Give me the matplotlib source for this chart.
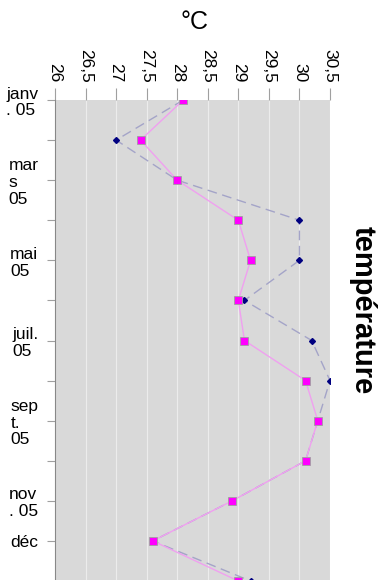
import matplotlib.pyplot as plt

plt.rcParams['font.family'] = ['Liberation Sans', 'DejaVu Sans']

months = ['janv\n. 05', '', 'mar\ns\n05', '', 'mai\n05', '', 'juil.\n05', '',
          'sep\nt.\n05', '', 'nov\n. 05', 'déc']
temp_a = [28.1, 27.4, 28.0, 29.0, 29.2, 29.0, 29.1, 30.1, 30.3, 30.1, 28.9, 27.6, 29.0]
temp_b = [28.1, 27.0, 28.0, 30.0, 30.0, 29.1, 30.2, 30.5, 30.3, 30.1, 28.9, 27.6, 29.2]
x_ticks = [26, 26.5, 27, 27.5, 28, 28.5, 29, 29.5, 30, 30.5]
x_labels = ['26', '26,5', '27', '27,5', '28', '28,5', '29', '29,5', '30', '30,5']

W, H = 385, 580
fig = plt.figure(figsize=(W / 100, H / 100), dpi=100)
ax = fig.add_axes([55 / W, 0, 275 / W, 480 / H])
ax.set_facecolor('#d9d9d9')

idx = list(range(len(temp_a)))
ax.plot(temp_b, idx, color='#a4a4c8', lw=1, ls=(0, (7, 4)), marker='D',
        ms=3, mfc='#000080', mec='#000080', zorder=3)
ax.plot(temp_a, idx, color='#f0a0f0', lw=1, marker='s', ms=6,
        mfc='#ff00ff', mec='#a0a0a0', mew=0.6, zorder=4)

ax.set_xlim(26, 30.5)
ax.set_ylim(12 - 1 / 40, 0)
ax.xaxis.tick_top()
ax.set_xticks(x_ticks)
ax.set_xticklabels(x_labels, rotation=-90, fontsize=12.5)
ax.set_yticks(range(len(months)))
ax.set_yticklabels(months, fontsize=12.5, multialignment='left', linespacing=1.15)
ax.tick_params(axis='x', length=9, color='#a0a0a0', pad=3.5)
ax.tick_params(axis='y', length=6, color='#a0a0a0', pad=6)
ax.grid(axis='x', color='#ececec', lw=0.8)
ax.set_axisbelow(True)
for s in ['top', 'right', 'bottom']:
    ax.spines[s].set_visible(False)
ax.spines['left'].set_color('#888888')

fig.text(195 / W, 1 - 22 / H, '°C', fontsize=18, ha='center', va='center')
fig.text(363 / W, 1 - 310 / H, 'température', fontsize=21, fontweight='bold',
         rotation=-90, ha='center', va='center')

fig.savefig('out.png', dpi=100)
